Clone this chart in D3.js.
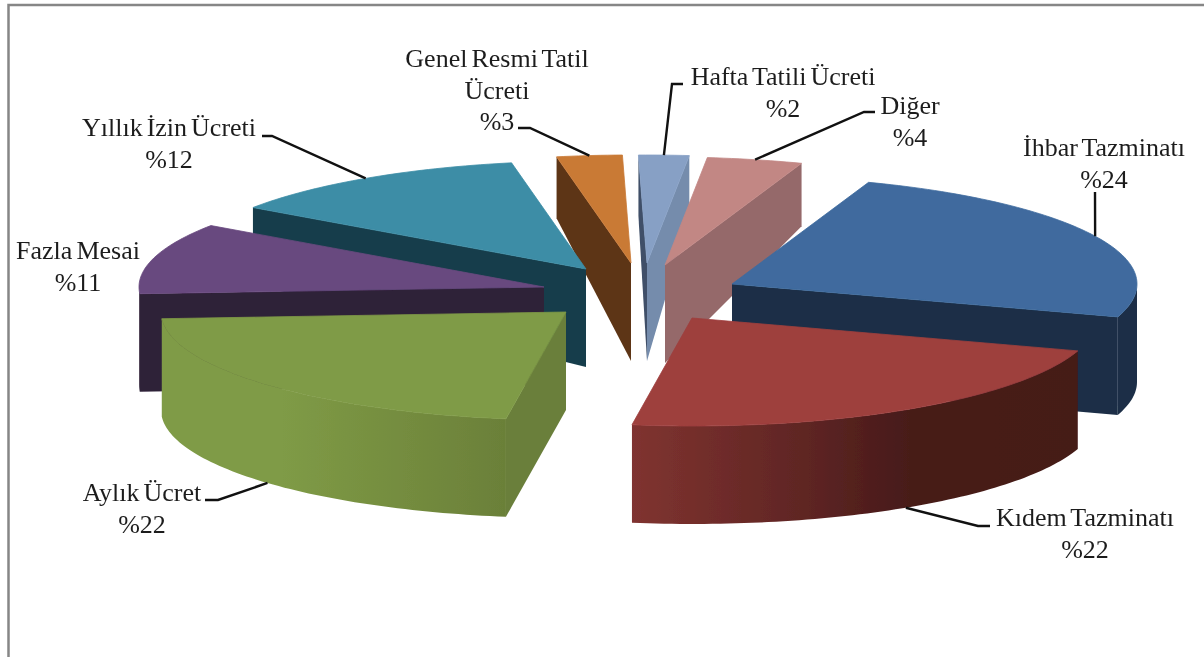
<!DOCTYPE html>
<html lang="tr">
<head>
    <meta charset="UTF-8">
    <title>Pie</title>
    <script src="https://cdn.jsdelivr.net/npm/d3@7/dist/d3.min.js"></script>
    <style type="text/css">
        html, body { margin: 0; padding: 0; background: #fff; overflow: hidden; }
        .label text { font-family: "Liberation Serif", serif; font-size: 26px; word-spacing: -2.5px; fill: #1e1e1e; text-anchor: middle; }
        .leader { fill: none; stroke: #111; stroke-width: 2.4px; }
    </style>
</head>
<body>
<div id="diagram"></div>
<script type="text/javascript">
// percentages, clockwise, starting from the thin slice near the top
var categories = ["Diğer", "İhbar Tazminatı", "Kıdem Tazminatı", "Aylık Ücret", "Fazla Mesai", "Yıllık İzin Ücreti", "Genel Resmi Tatil\nÜcreti", "Hafta Tatili Ücreti"];
var values = [3.8, 24.4, 22.4, 21.6, 10.6, 12.4, 2.6, 2];

// styles
var topColors  = ["#c28784", "#3f6b9e", "#9e3f3d", "#7f9b46", "#68497f", "#3c8da6", "#c97a36", "#87a0c5"];
var wallColors = ["#95696a", "#1b2f47", "#5f2422", "#6b8039", "#2f2039", "#173e4b", "#5d3516", "#748cac"];
var startCutColors = ["#95696a", "#1b2f47", "#5f2422", "#6a7f3b", "#2f2039", "#173e4b", "#5d3516", "#3f5068"];

// layout: slices are pulled apart by hand in the source chart
var width = 1204, height = 657;
var center = [640, 290];
var explode = [[25, -25], [92, -6], [52, 28], [-74, 22], [-96, -3], [-54, -21], [-9, -27], [7, -27]];
var drawOrder = [6, 7, 0, 5, 4, 1, 3, 2];
var depth = 98;
var labelPos = [[910, 114], [1104, 156], [1085, 526], [142, 501], [78, 259], [169, 136], [497, 67], [783, 85]];
var lineGap = 31.5;
var leaderElbow = [
    [[875, 112], [864, 112]], [[1095, 192], [1095, 193]], [[990, 526], [978, 526]], [[205, 500], [218, 500]],
    null, [[262, 136], [272, 136]], [[518, 128], [530, 128]], [[683, 84], [672, 84]]
];

var svg = d3.select("#diagram").append("svg")
    .attr("width", width)
    .attr("height", height)
    .style("display", "block");

var defs = svg.append("defs");
defs.append("filter").attr("id", "soft").append("feGaussianBlur").attr("stdDeviation", 0.45);

function wallGradient(id, x0, x1, stops) {
    var g = defs.append("linearGradient").attr("id", id)
        .attr("gradientUnits", "userSpaceOnUse")
        .attr("x1", x0).attr("x2", x1).attr("y1", 0).attr("y2", 0);
    stops.forEach(function (s) {
        g.append("stop").attr("offset", s[0]).attr("stop-color", s[1]);
    });
}
wallGradient("wall2", 630, 1075, [[0, "#803330"], [0.38, "#602624"], [0.63, "#471a19"], [1, "#451a18"]]);
wallGradient("wall3", 160, 505, [[0, "#7f9b46"], [0.35, "#7f9b46"], [1, "#6b8039"]]);

svg.append("path")
    .attr("d", "M8.5,657V5H" + width)
    .attr("fill", "none")
    .attr("stroke", "#868686")
    .attr("stroke-width", 2.5);

var pie = d3.pie().sort(null).value(function (d) { return d; })
    .startAngle(6 * Math.PI / 180)
    .endAngle(6 * Math.PI / 180 + 2 * Math.PI);
var arcs = pie(values);

// unit circle to screen, flattened
var xr = d3.scaleLinear().domain([-1, 1]).range([-405, 405]);
var yr = d3.scaleLinear().domain([-1, 1]).range([-108, 108]);
var line = d3.line();

function rimPoint(i, a) {
    return [center[0] + explode[i][0] + xr(Math.sin(a)), center[1] + explode[i][1] + yr(-Math.cos(a))];
}
// side walls look shorter towards the back
function dropAt(a) {
    var v = -Math.cos(a);
    return v < 0 ? depth * (1 + 0.38 * v) : depth;
}
function rimSamples(i, a0, a1) {
    var n = Math.max(2, Math.ceil((a1 - a0) / 0.02));
    return d3.range(n + 1).map(function (k) {
        return a0 + (a1 - a0) * k / n;
    });
}
function topPath(i) {
    var apex = [center[0] + explode[i][0], center[1] + explode[i][1]];
    var pts = rimSamples(i, arcs[i].startAngle, arcs[i].endAngle).map(function (a) { return rimPoint(i, a); });
    return line([apex].concat(pts)) + "Z";
}
function cutPath(i, a) {
    var apex = [center[0] + explode[i][0], center[1] + explode[i][1]];
    var r = rimPoint(i, a);
    return line([apex, r, [r[0], r[1] + dropAt(a)], [apex[0], apex[1] + depth]]) + "Z";
}
function wallPath(i, a0, a1) {
    var angles = rimSamples(i, a0, a1);
    var upper = angles.map(function (a) { return rimPoint(i, a); });
    var lower = angles.slice().reverse().map(function (a) {
        var p = rimPoint(i, a);
        return [p[0], p[1] + depth];
    });
    return line(upper.concat(lower)) + "Z";
}

var slices = svg.append("g").attr("filter", "url(#soft)");

drawOrder.forEach(function (i) {
    var g = slices.append("g").attr("class", "slice");
    var a0 = arcs[i].startAngle, a1 = arcs[i].endAngle;

    // cut faces only when they turn towards the viewer
    if (Math.sin(a0) < 0) {
        g.append("path").attr("d", cutPath(i, a0)).attr("fill", startCutColors[i]);
    }
    if (Math.sin(a1) > 0) {
        g.append("path").attr("d", cutPath(i, a1)).attr("fill", wallColors[i]);
    }
    var f0 = Math.max(a0, Math.PI / 2), f1 = Math.min(a1, 3 * Math.PI / 2);
    if (f1 > f0) {
        var fill = i === 2 ? "url(#wall2)" : i === 3 ? "url(#wall3)" : wallColors[i];
        g.append("path").attr("d", wallPath(i, f0, f1)).attr("fill", fill);
    }
    // thin stroke closes the hairline between the top face and the wall under it
    g.append("path").attr("d", topPath(i)).attr("fill", topColors[i])
        .attr("stroke", topColors[i]).attr("stroke-width", 0.8).attr("stroke-linejoin", "round");
});

// leader lines end on the rim at the middle of the slice, or under the wall for front slices
arcs.forEach(function (d, i) {
    if (!leaderElbow[i]) return;
    var mid = (d.startAngle + d.endAngle) / 2;
    var end = rimPoint(i, mid);
    if (-Math.cos(mid) > 0) end[1] += depth;
    svg.append("path")
        .attr("class", "leader")
        .attr("d", line(leaderElbow[i].concat([end])));
});

var label = svg.selectAll(".label")
    .data(categories)
    .enter()
    .append("g")
    .attr("class", "label")
    .attr("filter", "url(#soft)")
    .attr("transform", function (d, i) {
        return "translate(" + labelPos[i][0] + "," + labelPos[i][1] + ")";
    });

label.each(function (d, i) {
    var lines = d.split("\n").concat(["%" + d3.format(".0f")(values[i])]);
    d3.select(this).selectAll("text")
        .data(lines)
        .enter()
        .append("text")
        .attr("y", function (t, k) { return k * lineGap; })
        .text(function (t) { return t; });
});
</script>
</body>
</html>
